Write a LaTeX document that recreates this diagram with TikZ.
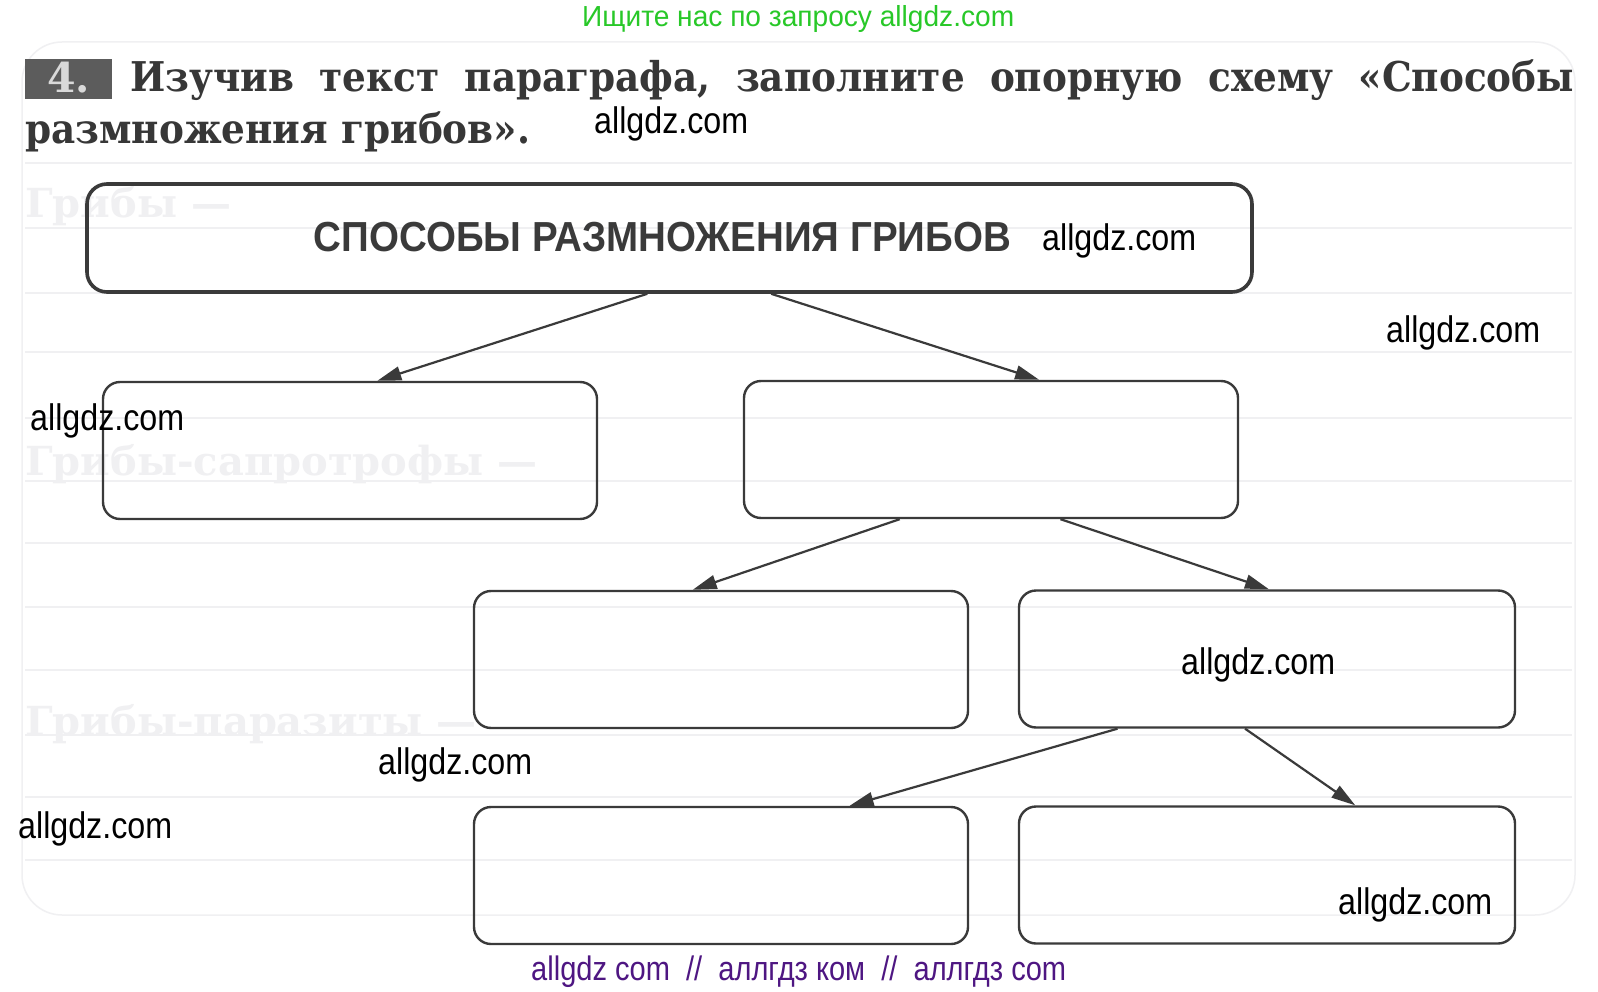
\documentclass[tikz,border=0pt]{standalone}
\usepackage{fontspec}
\usepackage{graphicx}
\usetikzlibrary{arrows.meta,calc}
\setmainfont{DejaVu Serif}
\newfontfamily\hdrfont{DejaVu Serif}
\newfontfamily\sansf{Liberation Sans}
\definecolor{ink}{RGB}{58,58,58}
\definecolor{hdrink}{RGB}{55,55,55}
\definecolor{wmgreen}{RGB}{40,200,40}
\definecolor{wmpurple}{RGB}{78,22,130}
\definecolor{faint}{RGB}{240,240,242}
\definecolor{numbox}{RGB}{92,92,92}
\newsavebox\lineB
\newlength\lwB
\newcommand\wmtext{\resizebox{154pt}{\height}{\sansf\fontsize{37}{37}\selectfont allgdz.com}}
\newcommand\hw[1]{\scalebox{\hs}[1]{#1}}
\begin{document}
\sbox\lineB{\color{hdrink}\hdrfont\bfseries\fontsize{41}{48}\selectfont размножения грибов».}%
\setlength\lwB{\wd\lineB}%
\pgfmathsetmacro\hs{505/\lwB}%
\begin{tikzpicture}[x=1pt,y=-1pt,
  box/.style={draw=ink, line width=2.4pt, rounded corners=17pt, minimum width=494pt, minimum height=137pt, inner sep=0pt},
  topbox/.style={draw=ink, line width=3.6pt, rounded corners=20pt, minimum width=1165pt, minimum height=108pt, inner sep=0pt},
  arr/.style={draw=ink, line width=2.2pt, -{Triangle[length=24pt,width=14pt]}},
  wm/.style={anchor=base west, inner sep=0pt, text=black},
  bleed/.style={anchor=base west, inner sep=0pt, text=faint, font=\hdrfont\bfseries\fontsize{40}{40}\selectfont},
  fline/.style={draw=faint, line width=1.2pt}
]
\useasboundingbox (0,0) rectangle (1598,992);
\fill[white] (0,0) rectangle (1598,992);
% faint page background (bleed-through)
\draw[draw=faint, line width=1.5pt, rounded corners=40pt] (22,42) rectangle (1575,915);
\foreach \yy in {163,228,293,352,418,481,543,607,670,735,797,860} {
  \draw[fline] (25,\yy) -- (1572,\yy);
}
\node[bleed] (b1) at (25,218) {Грибы —};
\node[bleed] (b2) at (25,475) {Грибы-сапротрофы —};
\node[bleed] (b3) at (25,735) {Грибы-паразиты —};
% header
\fill[numbox] (25,59) rectangle (112,99);
\node[anchor=base, inner sep=0pt, text=gray!30] (num) at (68.5,93) {\hdrfont\bfseries\fontsize{41}{48}\selectfont 4.};
\node[anchor=base west, inner sep=0pt, text=hdrink] (h1) at (130,92) {\hdrfont\bfseries\fontsize{41}{48}\selectfont
  \makebox[1444pt][s]{\hw{Изучив} \hw{текст} \hw{параграфа,} \hw{заполните} \hw{опорную} \hw{схему} \hw{«Способы}}};
\node[anchor=base west, inner sep=0pt, text=hdrink] (h2) at (25,144) {\scalebox{\hs}[1]{\usebox\lineB}};
% boxes
\node[topbox] (top) at (669.5,238) {};
\node[anchor=base, inner sep=0pt, text=ink] (title) at (662.5,252) {\resizebox{697pt}{\height}{\sansf\bfseries\fontsize{42}{42}\selectfont СПОСОБЫ РАЗМНОЖЕНИЯ ГРИБОВ}};
\node[box] (l1) at (350,450.5) {};
\node[box] (r1) at (991,449.5) {};
\node[box] (l2) at (721,659.5) {};
\node[box, minimum width=496pt] (r2) at (1267,659) {};
\node[box] (l3) at (721,875.5) {};
\node[box, minimum width=496pt] (r3) at (1267,875) {};
% arrows
\draw[arr] ($(top.south west)!0.481!(top.south east)$) -- ($(l1.north west)!0.555!(l1.north east)$);
\draw[arr] ($(top.south west)!0.587!(top.south east)$) -- ($(r1.north west)!0.597!(r1.north east)$);
\draw[arr] ($(r1.south west)!0.316!(r1.south east)$) -- ($(l2.north west)!0.443!(l2.north east)$);
\draw[arr] ($(r1.south west)!0.640!(r1.south east)$) -- ($(r2.north west)!0.504!(r2.north east)$);
\draw[arr] ($(r2.south west)!0.200!(r2.south east)$) -- ($(l3.north west)!0.759!(l3.north east)$);
\draw[arr] ($(r2.south west)!0.456!(r2.south east)$) -- ($(r3.north west)!0.677!(r3.north east)$);
% watermarks
\node[anchor=base west, inner sep=0pt, text=wmgreen] (gtop) at (582,27) {\resizebox{432pt}{\height}{\sansf\fontsize{29}{29}\selectfont Ищите нас по запросу allgdz.com}};
\node[wm] (w1) at (594,134) {\wmtext};
\node[wm] (w2) at (1042,251) {\wmtext};
\node[wm] (w3) at (1386,342) {\wmtext};
\node[wm] (w4) at (30,430) {\wmtext};
\node[wm] (w5) at (1181,674) {\wmtext};
\node[wm] (w6) at (378,774) {\wmtext};
\node[wm] (w7) at (18,838) {\wmtext};
\node[wm] (w8) at (1338,914) {\wmtext};
\node[anchor=base west, inner sep=0pt, text=wmpurple] (pbot) at (531,980) {\resizebox{535pt}{\height}{\sansf\fontsize{34}{34}\selectfont allgdz com\ \ //\ \ аллгдз ком\ \ //\ \ аллгдз com}};
\end{tikzpicture}
\end{document}
